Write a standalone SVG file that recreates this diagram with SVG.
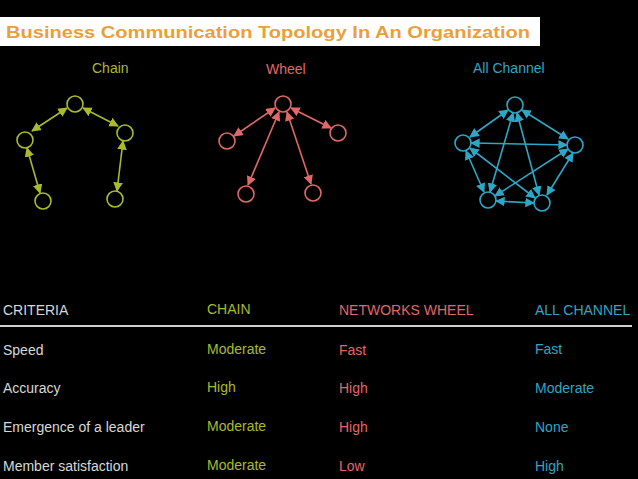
<svg xmlns="http://www.w3.org/2000/svg" width="638" height="479" viewBox="0 0 638 479">
<style>
text{font-family:"Liberation Sans",Arial,sans-serif}
.t{font-size:14px}
.c{stroke:#a9ba2e;fill:none;stroke-width:1.6}
.w{stroke:#e06868;fill:none;stroke-width:1.6}
.a{stroke:#2ea6c6;fill:none;stroke-width:1.6}
.gc{fill:#a9ba2e}.gw{fill:#e06868}.ga{fill:#2ea6c6}.gh{fill:#d8d8d8}
</style>
<defs>
<marker id="mc" viewBox="0 0 10 10" refX="9" refY="5" markerWidth="6" markerHeight="6" orient="auto-start-reverse"><path d="M0,0L10,5L0,10z" fill="#a9ba2e"/></marker>
<marker id="mw" viewBox="0 0 10 10" refX="9" refY="5" markerWidth="6" markerHeight="6" orient="auto-start-reverse"><path d="M0,0L10,5L0,10z" fill="#e06868"/></marker>
<marker id="ma" viewBox="0 0 10 10" refX="9" refY="5" markerWidth="6" markerHeight="6" orient="auto-start-reverse"><path d="M0,0L10,5L0,10z" fill="#2ea6c6"/></marker>
</defs>
<rect width="638" height="479" fill="#000"/>
<rect x="0" y="17" width="540" height="29" fill="#fff"/>
<text x="6" y="38" font-size="17" font-weight="bold" fill="#e8a03a" textLength="524" lengthAdjust="spacingAndGlyphs">Business Communication Topology In An Organization</text>
<text x="92" y="73" class="t gc">Chain</text>
<text x="266" y="74" class="t gw">Wheel</text>
<text x="473" y="73" class="t ga">All Channel</text>
<g id="connectors">
<g class="c" marker-start="url(#mc)" marker-end="url(#mc)">
<line x1="67" y1="108" x2="32" y2="131"/><line x1="83" y1="108" x2="118" y2="126"/>
<line x1="27" y1="148" x2="40" y2="193"/><line x1="123" y1="141" x2="117" y2="191"/>
</g>
<g class="w" marker-start="url(#mw)" marker-end="url(#mw)">
<line x1="275" y1="108" x2="234" y2="136"/><line x1="291" y1="108" x2="331" y2="128"/>
<line x1="279" y1="112" x2="248" y2="185"/><line x1="287" y1="112" x2="311" y2="184"/>
</g>
<g class="a" marker-start="url(#ma)" marker-end="url(#ma)">
<line x1="508" y1="110" x2="470" y2="137"/><line x1="522" y1="110" x2="568" y2="139"/>
<line x1="471" y1="143" x2="567" y2="145"/><line x1="466" y1="151" x2="484" y2="192"/>
<line x1="573" y1="153" x2="547" y2="195"/><line x1="496" y1="201" x2="534" y2="203"/>
<line x1="513" y1="113" x2="490" y2="192"/><line x1="517" y1="113" x2="539" y2="195"/>
<line x1="470" y1="148" x2="535" y2="198"/><line x1="568" y1="149" x2="495" y2="196"/>
</g>
</g>
<g id="chain-nodes" class="c">
<circle id="c1" cx="75" cy="104" r="8"/><circle id="c2" cx="25" cy="140" r="8"/><circle id="c3" cx="125" cy="133" r="8"/><circle id="c4" cx="43" cy="201" r="8"/><circle id="c5" cx="115" cy="199" r="8"/>
</g>
<g id="wheel-nodes" class="w">
<circle id="w1" cx="283" cy="104" r="8"/><circle id="w2" cx="227" cy="141" r="8"/><circle id="w3" cx="338" cy="133" r="8"/><circle id="w4" cx="246" cy="194" r="8"/><circle id="w5" cx="313" cy="193" r="8"/>
</g>
<g id="all-nodes" class="a">
<circle id="a1" cx="515" cy="105" r="8"/><circle id="a2" cx="463" cy="143" r="8"/><circle id="a3" cx="575" cy="145" r="8"/><circle id="a4" cx="488" cy="200" r="8"/><circle id="a5" cx="542" cy="203" r="8"/>
</g>
<g id="table" class="t">
<text x="3" y="315" class="gh">CRITERIA</text><text x="207" y="314" class="gc">CHAIN</text><text x="339" y="315" class="gw">NETWORKS WHEEL</text><text x="535" y="315" class="ga">ALL CHANNEL</text>
<line x1="0" y1="326" x2="632" y2="326" stroke="#cfcfcf" stroke-width="2"/>
<text x="3" y="355" class="gh">Speed</text><text x="207" y="354" class="gc">Moderate</text><text x="339" y="355" class="gw">Fast</text><text x="535" y="354" class="ga">Fast</text>
<text x="3" y="393" class="gh">Accuracy</text><text x="207" y="392" class="gc">High</text><text x="339" y="393" class="gw">High</text><text x="535" y="393" class="ga">Moderate</text>
<text x="3" y="432" class="gh">Emergence of a leader</text><text x="207" y="431" class="gc">Moderate</text><text x="339" y="432" class="gw">High</text><text x="535" y="432" class="ga">None</text>
<text x="3" y="471" class="gh">Member satisfaction</text><text x="207" y="470" class="gc">Moderate</text><text x="339" y="471" class="gw">Low</text><text x="535" y="471" class="ga">High</text>
</g>
</svg>
